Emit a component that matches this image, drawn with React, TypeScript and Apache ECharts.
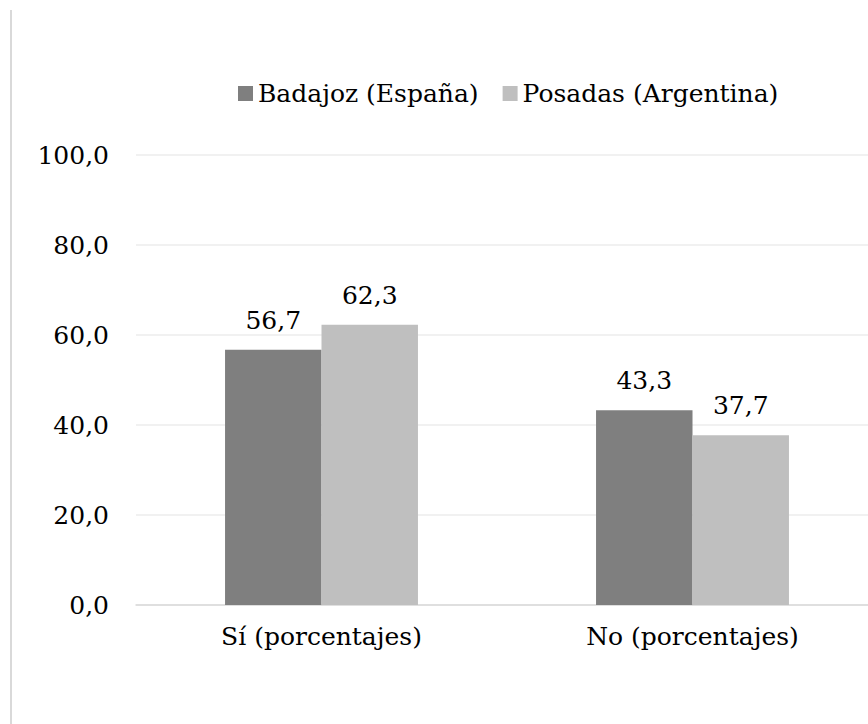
import React, { useEffect, useRef } from "react";
import * as echarts from "echarts";

const categories = ["Sí (porcentajes)", "No (porcentajes)"];
const seriesNames = ["Badajoz (España)", "Posadas (Argentina)"];
const badajoz = [56.7, 43.3];
const posadas = [62.3, 37.7];
const colors = ["#7f7f7f", "#bfbfbf"];

const FONT = "DejaVu Serif";
const FS = 25;
const fmt = (v: number) => v.toFixed(1).replace(".", ",");

export default function App() {
  const ref = useRef<HTMLDivElement>(null);
  useEffect(() => {
    if (!ref.current) return;
    const chart = echarts.init(ref.current, null, { renderer: "svg" });
    const labelStyle = {
      show: true,
      position: "top" as const,
      distance: 17,
      fontFamily: FONT,
      fontSize: FS,
      color: "#000",
      formatter: (p: any) => fmt(p.value),
    };
    chart.setOption({
      animation: false,
      backgroundColor: "#fff",
      textStyle: { fontFamily: FONT },
      legend: {
        left: 233,
        top: 76,
        itemWidth: 15,
        itemHeight: 15,
        itemGap: 24,
        icon: "rect",
        textStyle: { fontFamily: FONT, fontSize: FS, color: "#000" },
        data: seriesNames,
      },
      grid: { left: 136, top: 155, width: 742, height: 450 },
      xAxis: {
        type: "category",
        data: categories,
        axisLine: { show: true, lineStyle: { color: "#d9d9d9", width: 1.5 } },
        axisTick: { show: false },
        axisLabel: { fontFamily: FONT, fontSize: FS, color: "#000", margin: 19 },
      },
      yAxis: {
        type: "value",
        min: 0,
        max: 100,
        interval: 20,
        axisLine: { show: false },
        axisTick: { show: false },
        splitLine: { lineStyle: { color: "#ececec", width: 1.5 } },
        axisLabel: { fontFamily: FONT, fontSize: FS, color: "#000", margin: 27, formatter: (v: number) => fmt(v) },
      },
      series: [
        {
          name: seriesNames[0],
          type: "bar",
          data: badajoz,
          itemStyle: { color: colors[0] },
          barGap: "0%",
          barCategoryGap: "48%",
          label: labelStyle,
        },
        {
          name: seriesNames[1],
          type: "bar",
          data: posadas,
          itemStyle: { color: colors[1] },
          barGap: "0%",
          barCategoryGap: "48%",
          label: labelStyle,
        },
      ],
      graphic: [
        {
          type: "line",
          shape: { x1: 11, y1: 10, x2: 11, y2: 724 },
          style: { stroke: "#d9d9d9", lineWidth: 2 },
          silent: true,
        },
      ],
    });
    return () => chart.dispose();
  }, []);
  return (
    <div style={{ position: "absolute", left: 0, top: 0, width: 868, height: 724, overflow: "hidden" }}>
      <div ref={ref} style={{ width: 900, height: 724 }} />
    </div>
  );
}
